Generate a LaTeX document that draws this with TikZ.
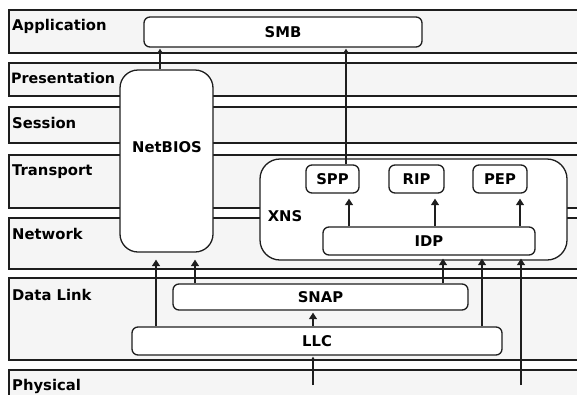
\documentclass[tikz,border=0pt]{standalone}
\usepackage{fontspec}
\setmainfont{DejaVu Sans}
\usetikzlibrary{arrows.meta}
\definecolor{linec}{HTML}{1E1E1E}
\definecolor{bandc}{HTML}{F5F5F5}
\begin{document}
\begin{tikzpicture}[x=1pt,y=-1pt,
  band/.style={draw=linec, fill=bandc, line width=1.4pt},
  box/.style={draw=linec, fill=white, line width=1.3pt, rounded corners=6pt, inner sep=0pt},
  txt/.style={font=\fontsize{14.8}{17}\selectfont\bfseries},
  lay/.style={anchor=base west, txt, inner sep=0pt},
  lbl/.style={txt, inner sep=0pt},
  arr/.style={draw=linec, line width=1.3pt, -{Triangle[width=8pt,length=6.5pt]}},
  sarr/.style={draw=linec, line width=1.2pt, -{Triangle[width=4.5pt,length=4pt]}}
]
\clip (0,0) rectangle (577,394);
\useasboundingbox (0,0) rectangle (577,394);
% layer bands
\draw[band] (9,10) rectangle (620,53);
\draw[band] (9,63) rectangle (620,96);
\draw[band] (9,107) rectangle (620,143);
\draw[band] (9,155) rectangle (620,208);
\draw[band] (9,218) rectangle (620,269);
\draw[band] (9,278) rectangle (620,360);
\draw[band] (9,370) rectangle (620,420);
% layer labels
\node[lay] (lapp) at (12,30) {Application};
\node[lay, font=\fontsize{14.3}{17}\selectfont\bfseries] (lpre) at (11,83) {Presentation};
\node[lay] (lses) at (12,128) {Session};
\node[lay] (ltra) at (12,175) {Transport};
\node[lay] (lnet) at (12,239) {Network};
\node[lay] (ldl) at (12,300) {Data Link};
\node[lay] (lphy) at (12,390) {Physical};
% boxes
\node[box, txt, minimum width=278pt, minimum height=30pt] (smb) at (283,32) {SMB};
\node[box, rounded corners=18pt, minimum width=93pt, minimum height=182pt] (netbios) at (166.5,161) {};
\node[lbl] (netbiosl) at (167,147) {NetBIOS};
\node[box, rounded corners=20pt, minimum width=307pt, minimum height=101pt] (xns) at (413.5,209.5) {};
\node[lbl] (xnsl) at (285,216) {XNS};
\node[box, txt, minimum width=53pt, minimum height=28pt] (spp) at (332.5,179) {SPP};
\node[box, txt, minimum width=55pt, minimum height=28pt] (rip) at (416.5,179) {RIP};
\node[box, txt, minimum width=54pt, minimum height=28pt] (pep) at (500,179) {PEP};
\node[box, txt, minimum width=212pt, minimum height=28pt] (idp) at (429,241) {IDP};
\node[box, txt, minimum width=295pt, minimum height=26pt] (snap) at (320.5,297) {SNAP};
\node[box, txt, minimum width=370pt, minimum height=28pt] (llc) at (317,341) {LLC};
% x positions of connectors
\coordinate (x160) at (160,0);
\coordinate (x346) at (346,0);
\coordinate (x349) at (349,0);
\coordinate (x435) at (435,0);
\coordinate (x520) at (520,0);
\coordinate (x156) at (156,0);
\coordinate (x195) at (195,0);
\coordinate (x443) at (443,0);
\coordinate (x482) at (482,0);
\coordinate (x521) at (521,0);
\coordinate (x313) at (313,0);
\coordinate (phyA) at (313,385);
\coordinate (phyB) at (521,385);
% connectors
\draw[sarr, shorten >=1pt] (netbios.north -| x160) -- (smb.south -| x160);
\draw[sarr, shorten >=1pt] (spp.north -| x346) -- (smb.south -| x346);
\draw[arr, shorten >=5pt] (idp.north -| x349) -- (spp.south -| x349);
\draw[arr, shorten >=5pt] (idp.north -| x435) -- (rip.south -| x435);
\draw[arr, shorten >=5pt] (idp.north -| x520) -- (pep.south -| x520);
\draw[arr, shorten >=7pt] (llc.north -| x156) -- (netbios.south -| x156);
\draw[arr, shorten >=7pt] (snap.north -| x195) -- (netbios.south -| x195);
\draw[arr, shorten >=3pt] (snap.north -| x443) -- (idp.south -| x443);
\draw[arr, shorten >=3pt] (llc.north -| x482) -- (idp.south -| x482);
\draw[arr, shorten >=3pt] (phyB) -- (idp.south -| x521);
\draw[arr, shorten >=2pt] (llc.north -| x313) -- (snap.south -| x313);
\draw[sarr, shorten >=1pt] (phyA) -- (llc.south -| x313);
\end{tikzpicture}
\end{document}
